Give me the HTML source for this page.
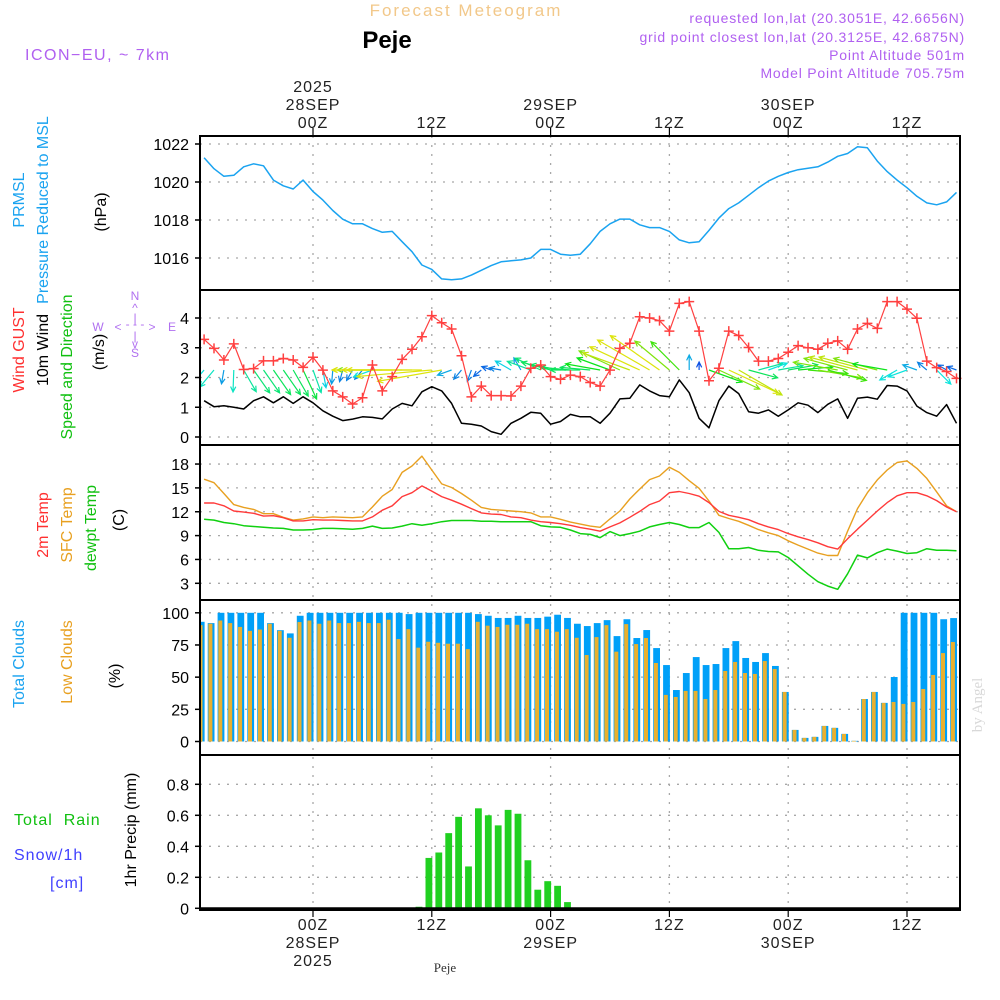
<!DOCTYPE html>
<html><head><meta charset="utf-8"><style>
html,body{margin:0;padding:0;background:#fff;}
svg{display:block;font-family:"Liberation Sans",sans-serif;}
</style></head><body>
<svg id="chart" width="1000" height="1000" viewBox="0 0 1000 1000" xmlns="http://www.w3.org/2000/svg">
<rect x="0" y="0" width="1000" height="1000" fill="#fff"/>
<text x="466" y="16" font-size="17" fill="#f2c88a" text-anchor="middle" letter-spacing="2">Forecast Meteogram</text>
<text x="387" y="48" font-size="24" font-weight="bold" fill="#000" text-anchor="middle">Peje</text>
<text x="25" y="60" font-size="16" fill="#b060f0" letter-spacing="1.5">ICON−EU, ~ 7km</text>
<g font-size="14" fill="#b060f0" text-anchor="end" letter-spacing="0.8">
<text x="965" y="23">requested lon,lat (20.3051E, 42.6656N)</text>
<text x="965" y="42">grid point closest lon,lat (20.3125E, 42.6875N)</text>
<text x="965" y="60">Point Altitude 501m</text>
<text x="965" y="78">Model Point Altitude 705.75m</text>
</g>
<g id="grid"></g>
<g id="marks"></g>
<g id="frames"></g>
<g id="labels"></g>
<text transform="translate(982,705) rotate(-90)" font-size="15" fill="#d8d8d8" font-family="Liberation Serif, serif" text-anchor="middle">by Angel</text>
<text x="445" y="972" font-size="13" fill="#333" font-family="Liberation Serif, serif" text-anchor="middle">Peje</text>
</svg>
<script>
const hourOffsets = [];
for (let k = 0; k < 77; k++) hourOffsets.push(k - 11);
const pressure = [1021.28,1020.7,1020.3,1020.35,1020.8,1020.96,1020.85,1020.1,1019.8,1019.63,1020.1,1019.5,1019.05,1018.5,1018.04,1017.8,1017.8,1017.55,1017.35,1017.4,1016.86,1016.33,1015.63,1015.4,1014.9,1014.85,1014.9,1015.1,1015.35,1015.6,1015.8,1015.85,1015.9,1016.0,1016.45,1016.45,1016.2,1016.15,1016.2,1016.75,1017.4,1017.8,1018.05,1018.05,1017.75,1017.6,1017.6,1017.4,1016.95,1016.8,1016.85,1017.45,1018.1,1018.6,1018.9,1019.3,1019.7,1020.05,1020.3,1020.5,1020.65,1020.72,1020.8,1021.05,1021.35,1021.5,1021.85,1021.8,1021.1,1020.55,1020.1,1019.7,1019.25,1018.9,1018.8,1018.95,1019.45];
const gust = [3.28,2.98,2.59,3.13,2.27,2.3,2.56,2.56,2.64,2.59,2.34,2.68,2.25,1.55,1.35,1.11,1.32,2.42,1.55,2.03,2.61,2.95,3.37,4.08,3.84,3.63,2.73,1.35,1.71,1.39,1.39,1.38,1.71,2.31,2.42,2.03,1.94,2.08,2.03,1.83,1.71,2.25,2.98,3.15,4.04,4.0,3.91,3.56,4.49,4.55,3.56,1.89,2.31,3.56,3.41,3.01,2.55,2.55,2.64,2.85,3.07,3.0,2.95,3.15,3.23,2.95,3.63,3.82,3.65,4.55,4.55,4.3,3.99,2.55,2.33,2.2,1.97];
const wind10 = [1.22,1.02,1.05,1.0,0.94,1.22,1.35,1.15,1.35,1.13,1.35,1.15,0.88,0.7,0.55,0.6,0.68,0.66,0.61,0.94,1.13,1.05,1.52,1.69,1.55,1.13,0.46,0.43,0.37,0.18,0.09,0.46,0.63,0.83,0.8,0.43,0.52,0.76,0.68,0.68,0.46,0.8,1.28,1.3,1.75,1.55,1.39,1.35,1.92,1.49,0.63,0.31,1.22,1.71,1.46,0.85,0.8,0.91,0.7,0.91,1.15,1.07,0.82,1.1,1.28,0.63,1.3,1.34,1.27,1.73,1.71,1.55,1.04,0.82,0.7,1.09,0.46];
const arrowAngle = [230,230,260,268,300,305,305,305,305,300,295,290,280,265,255,240,230,200,180,180,180,180,180,185,190,200,230,250,220,160,170,150,120,160,155,165,170,175,180,175,170,160,155,160,155,150,145,140,135,90,90,340,335,335,330,345,15,20,10,10,5,355,350,345,170,165,165,165,165,170,210,200,160,140,315,150,160];
const arrowSpeed = [20,22,14,22,25,28,28,30,30,30,32,24,18,14,12,12,12,20,45,60,70,70,75,75,65,15,12,12,10,10,12,18,14,25,28,30,30,30,30,30,35,35,45,50,55,60,60,45,40,15,8,35,45,55,50,30,25,20,25,30,35,40,45,40,45,45,50,50,45,35,20,20,15,12,20,10,10];
const sfcTemp = [16.1,15.65,14.3,12.9,12.55,12.3,11.75,11.75,11.3,10.95,11.1,11.35,11.25,11.35,11.3,11.25,11.35,12.6,13.95,14.8,16.95,17.75,19.0,17.25,15.5,15.05,14.3,13.45,12.55,12.3,12.2,12.1,12.0,11.85,11.35,11.35,11.05,10.7,10.45,10.2,10.05,11.1,12.1,13.6,14.85,16.05,16.5,17.6,16.95,15.9,14.95,13.35,11.55,11.15,10.8,10.3,9.75,9.35,9.0,8.35,7.8,7.3,6.8,6.5,6.5,9.55,12.4,14.4,16.0,17.25,18.2,18.4,17.45,16.2,14.5,12.75,12.0];
const temp2m = [13.1,13.1,12.75,12.1,11.95,11.8,11.45,11.5,11.25,10.85,10.85,11.0,10.95,10.95,10.9,10.85,10.85,11.35,12.2,12.75,13.9,14.4,15.25,14.6,13.9,13.45,12.95,12.4,11.85,11.7,11.65,11.35,11.25,10.95,10.75,10.65,10.5,10.3,10.0,9.8,9.55,10.1,10.6,11.3,12.05,12.9,13.35,14.4,14.55,14.3,13.95,13.15,12.05,11.55,11.3,11.0,10.5,10.1,9.75,9.25,8.85,8.5,8.1,7.6,7.3,8.6,9.8,10.95,12.1,13.15,14.0,14.4,14.4,14.0,13.4,12.6,12.0];
const dewpt = [11.05,10.95,10.65,10.5,10.25,10.15,10.05,9.95,9.9,9.7,9.7,9.75,9.9,9.9,9.85,9.8,9.9,10.2,9.9,9.95,10.2,10.5,10.3,10.5,10.75,10.9,10.9,10.9,10.8,10.8,10.75,10.75,10.75,10.75,10.25,10.1,10.05,9.7,9.25,9.15,8.75,9.5,9.0,9.25,9.55,10.1,10.4,10.65,10.4,10.0,10.0,10.65,9.4,7.35,7.35,7.5,7.15,7.0,6.95,6.25,5.2,4.15,3.2,2.65,2.25,4.2,6.55,6.2,6.85,7.3,7.05,6.75,6.85,7.35,7.15,7.15,7.1];
const totalClouds = [93,92,100,100,100,100,100,92,86.5,84,97.7,100,100,100,100,100,100,100,100,100,100,99,100,100,100,100,100,100,99,97.7,96,96,97.7,96,96,97,98.5,96,91.5,89.7,92,94.3,81.9,95,80.4,86.6,72.6,59.4,40,53.2,65.6,59.4,60.2,72.6,78,64.9,61.8,68.7,58.7,38.5,9,2.8,3.6,12.1,10.6,5.9,0.5,33,38.5,30,50.1,100,100,100,100,95,95.9];
const lowClouds = [90.4,91.5,94,92,89,86,87,91.5,86,80.6,92.8,94,91.5,94,92,92,93,92,92,94.6,79.6,87.3,72.9,77.5,76.7,76,76,71.8,93,90,89,90.7,90.7,91.5,87.3,87.3,85.3,87.3,80.6,67.2,81.1,90.4,69.8,91.2,75.7,80.4,61,36.2,34.6,39.3,39.3,33,40,54.8,61.8,53.2,52.5,62.5,56.3,38.5,9,2.8,3.6,12.1,10.6,5.9,0.5,33,38.5,30,30.7,29.2,30.7,40.8,51.7,68.7,77.3];
const rain = [0,0,0,0,0,0,0,0,0,0,0,0,0,0,0,0,0,0,0,0,0,0,0.01,0.325,0.36,0.485,0.59,0.27,0.645,0.6,0.535,0.635,0.61,0.31,0.12,0.175,0.145,0.04,0,0,0,0,0,0,0,0,0,0,0,0,0,0,0,0,0,0,0,0,0,0,0,0,0,0,0,0,0,0,0,0,0,0,0,0,0,0,0];
const pressTicks = [1016,1018,1020,1022];
const windTicks = [0,1,2,3,4];
const tempTicks = [3,6,9,12,15,18];
const cloudTicks = [0,25,50,75,100];
const rainTicks = [0,0.2,0.4,0.6,0.8];
const rainTickLabels = ["0","0.2","0.4","0.6","0.8"];
const timeTickHours = [0,12,24,36,48,60];
const topDateLabels = [["2025","28SEP","00Z"],["","","12Z"],["","29SEP","00Z"],["","","12Z"],["","30SEP","00Z"],["","","12Z"]];
const bottomDateLabels = [["00Z","28SEP","2025"],["12Z","",""],["00Z","29SEP",""],["12Z","",""],["00Z","30SEP",""],["12Z","",""]];

const NS = "http://www.w3.org/2000/svg";
const L = 200, R = 960;
const panels = [[136,290],[290,445],[445,600],[600,755],[755,910]];
const X = h => 313 + 9.9 * h;
const yP = v => 144 + (1022 - v) * 19;
const yW = v => 437 - v * 29.75;
const yT = v => 583.3 - (v - 3) * 7.95;
const yC = v => 741.5 - v * 1.287;
const yR = v => 908.3 - v * 155;
function mk(tag, attrs, parent) {
  const e = document.createElementNS(NS, tag);
  for (const k in attrs) e.setAttribute(k, attrs[k]);
  parent.appendChild(e);
  return e;
}
const grid = document.getElementById('grid');
const marks = document.getElementById('marks');
const frames = document.getElementById('frames');
const labels = document.getElementById('labels');
const gridStyle = {stroke:'#a8a8a8','stroke-width':1.3,'stroke-dasharray':'2,7',fill:'none'};

timeTickHours.forEach((h, i) => {
  const x = X(h);
  const vl = mk('line', Object.assign({x1:x,y1:136,x2:x,y2:910}, gridStyle), grid);
  
  
  const t1 = mk('line', {x1:x,y1:128,x2:x,y2:136,stroke:'#000','stroke-width':1.2}, frames);
  
  
  const t2 = mk('line', {x1:x,y1:910,x2:x,y2:917,stroke:'#000','stroke-width':1.2}, frames);
  
  
  topDateLabels[i].forEach((s, j) => {
    if (!s) return;
    const t = mk('text', {x:x, y:92 + j*18, 'font-size':16, fill:'#222', 'text-anchor':'middle', 'letter-spacing':1}, labels);
    t.textContent = s;
    
    
  });
  bottomDateLabels[i].forEach((s, j) => {
    if (!s) return;
    const t = mk('text', {x:x, y:930 + j*18, 'font-size':16, fill:'#222', 'text-anchor':'middle', 'letter-spacing':1}, labels);
    t.textContent = s;
    
    
  });
});

function yAxis(ticks, tickLabels, fy, name) {
  ticks.forEach((v, i) => {
    const y = fy(v);
    const gl = mk('line', Object.assign({x1:L,y1:y,x2:R,y2:y}, gridStyle), grid);
    
    
    const tk = mk('line', {x1:195,y1:y,x2:L,y2:y,stroke:'#000','stroke-width':1.5}, frames);
    
    
    const t = mk('text', {x:189, y:y+6, 'font-size':16, fill:'#000', 'text-anchor':'end'}, labels);
    t.textContent = tickLabels ? tickLabels[i] : String(v);
    
    
  });
}
yAxis(pressTicks, null, yP, 'pressure');
yAxis(windTicks, null, yW, 'wind');
yAxis(tempTicks, null, yT, 'temp');
yAxis(cloudTicks, null, yC, 'cloud');
yAxis(rainTicks, rainTickLabels, yR, 'precip');

function polyline(vals, fy, color, name, w) {
  const pts = vals.map((v, k) => X(hourOffsets[k]).toFixed(1) + ',' + fy(v).toFixed(1)).join(' ');
  const p = mk('polyline', {points:pts, fill:'none', stroke:color, 'stroke-width':w || 1.5, 'stroke-linejoin':'round'}, marks);
  
  
}
const defs = mk('defs', {}, document.getElementById('chart'));
panels.forEach((p, i) => {
  const c = mk('clipPath', {id:'clip' + i}, defs);
  mk('rect', {x:L, y:p[0], width:R-L, height:p[1]-p[0]}, c);
});

polyline(pressure, yP, '#1aa3f0', 'pressure-line', 1.5);

const cloudG = mk('g', {'clip-path':'url(#clip3)'}, marks);


totalClouds.forEach((v, k) => {
  const x = X(hourOffsets[k]);
  const b = mk('rect', {x:x-6.3, y:yC(v), width:6.8, height:yC(0)-yC(v), fill:'#00a0f8'}, cloudG);
  
  
  const lv = lowClouds[k];
  const o = mk('rect', {x:x-5.6, y:yC(lv), width:4, height:yC(0)-yC(lv), fill:'#e8b030'}, cloudG);
  
  
});

rain.forEach((v, k) => {
  if (v <= 0) return;
  const x = X(hourOffsets[k]);
  const b = mk('rect', {x:x-6.3, y:yR(v), width:6.8, height:yR(0)-yR(v), fill:'#20d020'}, marks);
  
  
});
const zl = mk('line', {x1:L,y1:yR(0),x2:R,y2:yR(0),stroke:'#000','stroke-width':2}, frames);



polyline(sfcTemp, yT, '#e8a020', 'sfc-temp-line', 1.4);
polyline(temp2m, yT, '#ff3a3a', '2m-temp-line', 1.4);
polyline(dewpt, yT, '#10d010', 'dewpt-line', 1.5);

polyline(wind10, yW, '#000', 'wind10-line', 1.5);
const arrowG = mk('g', {'clip-path':'url(#clip1)'}, marks);


arrowAngle.forEach((a, k) => {
  const len = arrowSpeed[k];
  const x0 = X(hourOffsets[k]), y0 = 370;
  const r = a * Math.PI / 180;
  const x1 = x0 + len * Math.cos(r), y1 = y0 - len * Math.sin(r);
  const hue = Math.max(62, 250 - 3.6 * len);
  const col = 'hsl(' + hue + ',90%,47%)';
  const h1 = r + Math.PI - 0.45, h2 = r + Math.PI + 0.45;
  const d = 'M' + x0.toFixed(1) + ',' + y0 + 'L' + x1.toFixed(1) + ',' + y1.toFixed(1) +
    'M' + (x1 + 6*Math.cos(h1)).toFixed(1) + ',' + (y1 - 6*Math.sin(h1)).toFixed(1) + 'L' + x1.toFixed(1) + ',' + y1.toFixed(1) +
    'L' + (x1 + 6*Math.cos(h2)).toFixed(1) + ',' + (y1 - 6*Math.sin(h2)).toFixed(1);
  const p = mk('path', {d:d, stroke:col, 'stroke-width':1.2, fill:'none'}, arrowG);
  
  
});
polyline(gust, yW, '#ff4040', 'gust-line', 1.2);
gust.forEach((v, k) => {
  const x = X(hourOffsets[k]), y = yW(v);
  const p = mk('path', {d:'M'+(x-5)+','+y+'H'+(x+5)+'M'+x+','+(y-5)+'V'+(y+5), stroke:'#ff4040','stroke-width':1.5}, marks);
  
  
});

panels.forEach((p, i) => {
  const r = mk('rect', {x:L, y:p[0], width:R-L, height:p[1]-p[0], fill:'none', stroke:'#000', 'stroke-width':2}, frames);
  
  
});

function vlabel(x, y, parts, size, name) {
  const t = mk('text', {transform:'translate('+x+','+y+') rotate(-90)', 'font-size':size||16, 'text-anchor':'middle'}, labels);
  
  
  parts.forEach(pp => {
    const s = mk('tspan', {fill:pp[1]}, t);
    s.textContent = pp[0];
  });
}
vlabel(24, 200, [['PRMSL','#1aa3f0']], 16, 'prmsl-label');
vlabel(48, 210, [['Pressure Reduced to MSL','#1aa3f0']], 16, 'pressure-title');
vlabel(106, 212, [['(hPa)','#000']], 16, 'pressure-unit');
vlabel(24, 350, [['Wind GUST','#ff3030']], 16, 'gust-title');
vlabel(48, 350, [['10m Wind','#000']], 16, 'wind10-title');
vlabel(72, 367, [['Speed and Direction','#10c010']], 16, 'wind-direction-title');
vlabel(104, 352, [['(m/s)','#000']], 16, 'wind-unit');
vlabel(48, 525, [['2m Temp','#ff3030']], 16, '2m-temp-title');
vlabel(72, 525, [['SFC Temp','#e8a020']], 16, 'sfc-temp-title');
vlabel(96, 528, [['dewpt Temp','#10c010']], 16, 'dewpt-title');
vlabel(124, 520, [['(C)','#000']], 16, 'temp-unit');
vlabel(24, 664, [['Total Clouds','#1aa3f0']], 16, 'total-clouds-title');
vlabel(72, 662, [['Low Clouds','#e8a020']], 16, 'low-clouds-title');
vlabel(120, 676, [['(%)','#000']], 16, 'cloud-unit');
vlabel(136, 830, [['1hr Precip (mm)','#000']], 16, 'precip-title');
function hlabel(x, y, s, col, name) {
  const t = mk('text', {x:x, y:y, 'font-size':16, fill:col, 'letter-spacing':1}, labels);
  t.textContent = s;
  
  
}
hlabel(14, 825, 'Total\u00a0\u00a0Rain', '#10c010', 'rain-legend');
hlabel(14, 860, 'Snow/1h', '#4040ff', 'snow-legend');
hlabel(50, 888, '[cm]', '#4040ff', 'snow-unit');
const cg = mk('g', {'font-size':12, fill:'#b070f0', 'text-anchor':'middle'}, labels);


[['N',135,300],['^',135,312],['|',135,322],['W',98,331],['<',118,331],['- - -',135,328],['>',152,331],['E',172,331],['|',135,340],['v',135,348],['S',135,357]].forEach(c => {
  const t = mk('text', {x:c[1], y:c[2]}, cg);
  t.textContent = c[0];
});
</script>
</body></html>
